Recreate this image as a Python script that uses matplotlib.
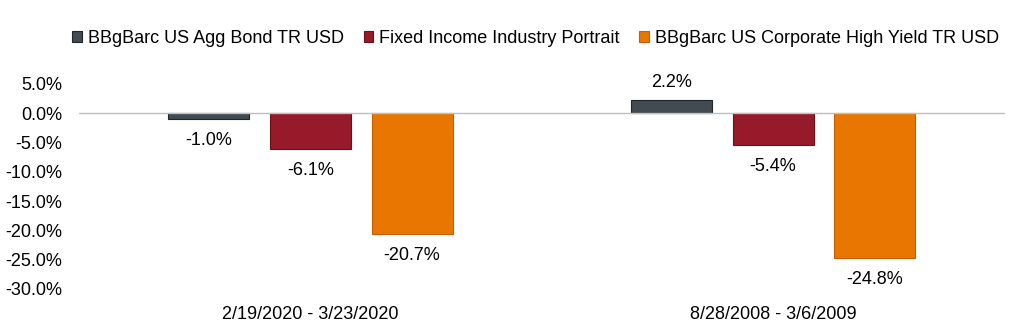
import numpy as np
import matplotlib.pyplot as plt
from matplotlib.ticker import FuncFormatter

plt.rcParams['font.family'] = ['Liberation Sans', 'DejaVu Sans']

periods = ["2/19/2020 - 3/23/2020", "8/28/2008 - 3/6/2009"]
series = ["BBgBarc US Agg Bond TR USD", "Fixed Income Industry Portrait",
          "BBgBarc US Corporate High Yield TR USD"]
agg_bond = [-1.0, 2.2]
fi_portrait = [-6.1, -5.4]
high_yield = [-20.7, -24.8]

colors = ["#414B51", "#961A2A", "#E87600"]
edges = ["#1f2528", "#6e0f1a", "#c75f00"]

fig = plt.figure(figsize=(10.24, 3.29), dpi=100)
ax = fig.add_axes([0.077, 0.122, 0.904, 0.623])

x = np.arange(len(periods))
width = 0.175
step = 0.22
fs = 13
for i, (name, vals) in enumerate(zip(series, [agg_bond, fi_portrait, high_yield])):
    pos = x + (i - 1) * step
    ax.bar(pos, vals, width, color=colors[i], edgecolor=edges[i], linewidth=0.8, label=name)
    for p, v in zip(pos, vals):
        off = 1.6 if v >= 0 else -2.2
        ax.text(p, v + off, f"{v:.1f}%", ha="center", va="bottom" if v >= 0 else "top",
                fontsize=fs, color="#000000")

ax.axhline(0, color="#BFBFBF", linewidth=1)
ax.set_xlim(-0.5, 1.5)
ax.set_ylim(-30, 5)
ax.set_yticks(np.arange(-30, 5.1, 5))
ax.yaxis.set_major_formatter(FuncFormatter(lambda v, _: f"{v:.1f}%"))
ax.set_xticks(x)
ax.set_xticklabels(periods)
ax.tick_params(axis="both", length=0, labelsize=fs, colors="#000000")
ax.tick_params(axis="x", pad=12)
ax.tick_params(axis="y", pad=12)
for s in ax.spines.values():
    s.set_visible(False)

fig.legend(loc="center", bbox_to_anchor=(0.523, 0.882), ncol=3, frameon=False,
           fontsize=fs, handlelength=0.55, handleheight=0.55, handletextpad=0.3,
           columnspacing=1.1)

plt.savefig("out.png", dpi=100)
